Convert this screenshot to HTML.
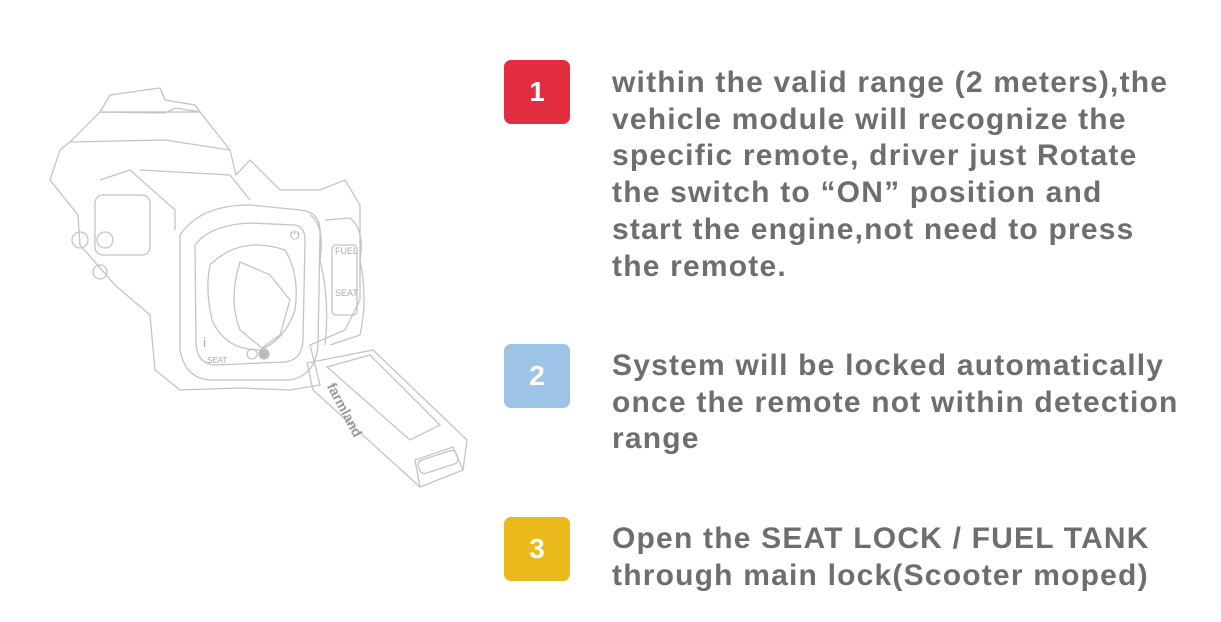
<!DOCTYPE html>
<html><head><meta charset="utf-8"><style>
body{margin:0;width:1221px;height:622px;background:#fff;position:relative;overflow:hidden;font-family:"Liberation Sans",Arial,sans-serif}
.b{position:absolute;left:504px;width:66px;height:64px;border-radius:7px;color:#fff;font-weight:bold;font-size:28px;text-align:center;line-height:64px}
.t{position:absolute;left:612px;color:#6e6e6e;font-weight:bold;font-size:30px;letter-spacing:1.2px;line-height:36.7px;white-space:nowrap}
</style></head><body>
<svg width="520" height="520" style="position:absolute;left:0;top:0" fill="none" stroke="#c4c4c4" stroke-width="1.3">
<polygon points="70,142 100,112 165,113 175,108 200,112 230,150 236,175 250,160 280,190 320,190 345,180 360,205 360,300 345,330 310,345 320,385 290,390 240,388 180,390 155,370 150,315 115,285 80,245 78,215 50,180 60,150"/>
<polygon points="100,112 110,95 160,88 165,100 195,105 200,112"/>
<polyline points="70,142 165,140 230,150"/>
<polyline points="100,180 130,170 175,210 175,230"/>
<polyline points="140,170 230,175 250,200"/>
<rect x="95" y="195" width="55" height="60" rx="8"/>
<circle cx="80" cy="240" r="8"/><circle cx="105" cy="240" r="8"/><circle cx="100" cy="272" r="7"/>
<path d="M180,235 Q200,205 250,205 L300,210 Q322,212 320,235 L318,345 Q316,375 290,380 L210,380 Q185,378 180,350 Z"/>
<path d="M195,245 Q210,225 250,223 L295,225 Q305,227 305,240 L303,340 Q302,360 285,362 L215,365 Q198,364 196,345 Z"/>
<path d="M210,265 Q240,235 285,250 Q300,275 295,310 Q285,340 260,350 Q225,350 212,320 Q205,290 210,265 Z"/>
<path d="M240,262 L270,275 L290,300 L280,335 L262,348 L240,330 Q228,300 240,262 Z"/>
<path d="M310,215 Q325,225 320,260 Q330,300 325,345"/>
<path d="M325,220 L350,218 Q365,230 360,260 Q368,300 360,335 L330,345"/>
<rect x="332" y="245" width="25" height="70" rx="4"/>
<path d="M307,363 L373,350 L467,440 L463,470 L420,487 L313,390 Z"/>
<path d="M327,367 L370,355 L440,425 L410,440 Z"/>
<path d="M420,487 L415,460 L453,447 L463,470"/>
<rect x="418" y="455" width="40" height="14" rx="5" transform="rotate(-18 438 462)"/>
<circle cx="252" cy="354" r="5"/><circle cx="264" cy="354" r="5" fill="#bbb"/>
</svg>
<div style="position:absolute;left:290px;top:228px;color:#aaa;font-size:12px">⏻</div>
<div style="position:absolute;left:335px;top:246px;color:#aaa;font-size:9px">FUEL</div>
<div style="position:absolute;left:335px;top:288px;color:#aaa;font-size:9px">SEAT</div>
<div style="position:absolute;left:203px;top:334px;color:#aaa;font-size:14px">i</div>
<div style="position:absolute;left:207px;top:356px;color:#aaa;font-size:8px">SEAT</div>
<div style="position:absolute;left:338px;top:380px;color:#999;font-size:14px;font-weight:bold;transform:rotate(62deg);transform-origin:0 0">farmland</div>
<div class="b" style="top:60px;background:#e22d40">1</div>
<div class="b" style="top:344px;background:#9dc3e6">2</div>
<div class="b" style="top:517px;background:#eab91b">3</div>
<div class="t" style="top:65px">within the valid range (2 meters),the<br>vehicle module will recognize the<br>specific remote, driver just Rotate<br>the switch to “ON” position and<br>start the engine,not need to press<br>the remote.</div>
<div class="t" style="top:348px">System will be locked automatically<br>once the remote not within detection<br>range</div>
<div class="t" style="top:521px">Open the SEAT LOCK / FUEL TANK<br>through main lock(Scooter moped)</div>
</body></html>
